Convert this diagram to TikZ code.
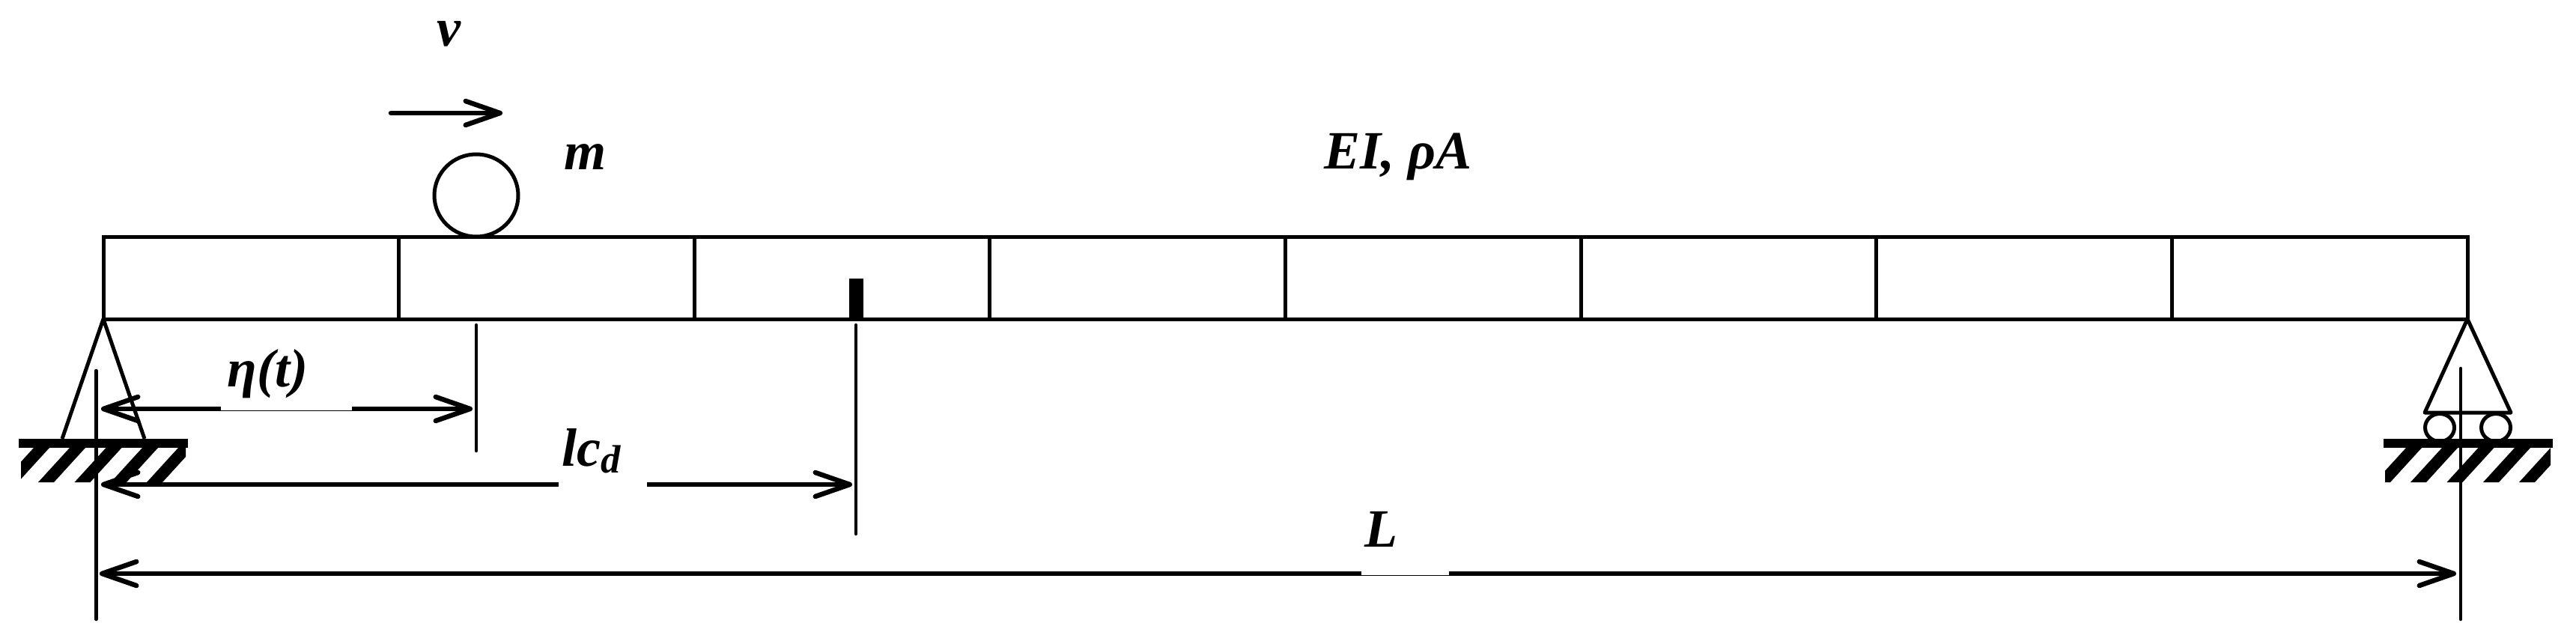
\documentclass[tikz,border=0pt]{standalone}
\usepackage{fontspec}
\setmainfont{Liberation Serif}
\usetikzlibrary{arrows.meta}
\tikzset{
  beamline/.style={line width=0.05cm},
  refline/.style={line width=0.045cm,line cap=round},
  dimarrow/.style={line width=0.065cm,{Straight Barb[length=0.46cm,width=0.32cm,round]}-{Straight Barb[length=0.46cm,width=0.32cm,round]}},
  endarrow/.style={line width=0.065cm,-{Straight Barb[length=0.46cm,width=0.32cm,round]}},
  startarrow/.style={line width=0.065cm,{Straight Barb[length=0.46cm,width=0.32cm,round]}-},
  lbl/.style={anchor=base west,inner sep=0pt,font=\fontsize{20.5}{24}\selectfont\bfseries\itshape}
}
\begin{document}
\begin{tikzpicture}[y=-1cm]
        \useasboundingbox (0,0) rectangle (34.4,8.6);
        % beam and its elements
        \draw[beamline] (1.38,3.165) rectangle (32.95,4.26);
        \draw[beamline] (5.326,3.165) -- (5.326,4.26);
        \draw[beamline] (9.272,3.165) -- (9.272,4.26);
        \draw[beamline] (13.219,3.165) -- (13.219,4.26);
        \draw[beamline] (17.165,3.165) -- (17.165,4.26);
        \draw[beamline] (21.111,3.165) -- (21.111,4.26);
        \draw[beamline] (25.057,3.165) -- (25.057,4.26);
        \draw[beamline] (29.004,3.165) -- (29.004,4.26);
        % crack
        \fill (11.34,3.72) rectangle (11.53,4.26);
        % moving mass
        \draw[beamline] (6.36,2.61) ellipse (0.56cm and 0.55cm);
        \coordinate (vstart) at (5.22,1.51);
        \coordinate (vend) at (6.71,1.51);
        \draw[endarrow,line cap=round] (vstart) -- (vend);
        % left support
        \draw[beamline,line join=round] (0.83,5.86) -- (1.38,4.26) -- (1.93,5.86);
        \fill (0.25,5.86) rectangle (2.51,5.98);
        \begin{scope}
          \clip (0.28,5.98) rectangle (2.48,6.44);
          \fill (0.03,6.44) -- (0.24,6.44) -- (0.66,5.98) -- (0.45,5.98) -- cycle;
          \fill (0.51,6.44) -- (0.72,6.44) -- (1.14,5.98) -- (0.93,5.98) -- cycle;
          \fill (0.995,6.44) -- (1.205,6.44) -- (1.625,5.98) -- (1.415,5.98) -- cycle;
          \fill (1.48,6.44) -- (1.69,6.44) -- (2.11,5.98) -- (1.90,5.98) -- cycle;
          \fill (1.96,6.44) -- (2.17,6.44) -- (2.59,5.98) -- (2.38,5.98) -- cycle;
        \end{scope}
        % right support
        \draw[beamline,line join=round] (32.38,5.51) -- (32.95,4.26) -- (33.53,5.51) -- cycle;
        \draw[beamline] (32.58,5.71) ellipse (0.195cm and 0.185cm);
        \draw[beamline] (33.33,5.71) ellipse (0.195cm and 0.185cm);
        \fill (31.83,5.86) rectangle (34.09,5.98);
        \begin{scope}
          \clip (31.85,5.98) rectangle (34.06,6.44);
          \fill (31.71,6.44) -- (31.92,6.44) -- (32.34,5.98) -- (32.13,5.98) -- cycle;
          \fill (32.19,6.44) -- (32.40,6.44) -- (32.82,5.98) -- (32.61,5.98) -- cycle;
          \fill (32.675,6.44) -- (32.885,6.44) -- (33.305,5.98) -- (33.095,5.98) -- cycle;
          \fill (33.16,6.44) -- (33.37,6.44) -- (33.79,5.98) -- (33.58,5.98) -- cycle;
          \fill (33.64,6.44) -- (33.85,6.44) -- (34.27,5.98) -- (34.06,5.98) -- cycle;
        \end{scope}
        % extension lines
        \draw[refline] (1.285,4.95) -- (1.285,8.27);
        \draw[refline] (32.86,4.92) -- (32.86,8.27);
        \draw[refline] (6.36,4.34) -- (6.36,6.02);
        \draw[refline] (11.43,4.34) -- (11.43,7.13);
        % dimensions
        \coordinate (etaleft) at (1.35,5.46);
        \coordinate (etaright) at (6.31,5.46);
        \coordinate (lcleft) at (1.35,6.47);
        \coordinate (lcgapa) at (7.46,6.47);
        \coordinate (lcgapb) at (8.64,6.47);
        \coordinate (lcright) at (11.38,6.47);
        \coordinate (lenleft) at (1.33,7.66);
        \coordinate (lenright) at (32.80,7.66);
        \draw[dimarrow] (etaleft) -- (etaright);
        \fill[white] (2.95,5.40) rectangle (4.70,5.48);
        \draw[startarrow] (lcleft) -- (lcgapa);
        \draw[endarrow] (lcgapb) -- (lcright);
        \draw[dimarrow] (lenleft) -- (lenright);
        \fill[white] (18.175,7.60) rectangle (19.35,7.68);
        % labels
        \node[lbl] (vlabel) at (5.83,0.61) {v};
        \node[lbl] (mlabel) at (7.53,2.26) {m};
        \node[lbl] (stiff) at (17.68,2.25) {EI, ρA};
        \node[lbl] (etalabel) at (3.03,5.16) {η(t)};
        \node[lbl] (lclabel) at (7.50,6.22) {lc\raisebox{-0.09cm}{\fontsize{15}{17}\selectfont d}};
        \node[lbl] (lenlabel) at (18.22,7.30) {L};
      \end{tikzpicture}
\end{document}
